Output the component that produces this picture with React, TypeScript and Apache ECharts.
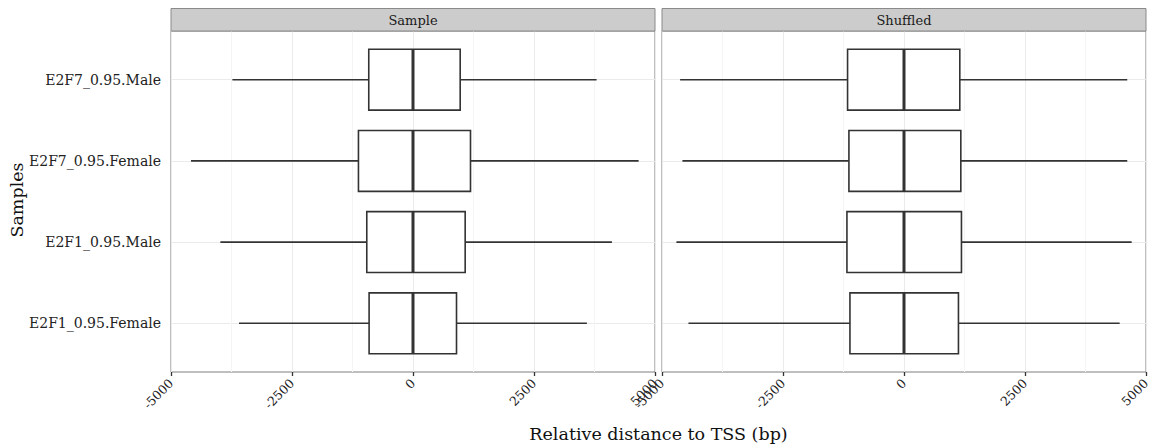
import React, { useEffect, useRef } from "react";
import * as echarts from "echarts";

// Categories, bottom to top (y = 1..4)
const categories = ["E2F1_0.95.Female", "E2F1_0.95.Male", "E2F7_0.95.Female", "E2F7_0.95.Male"];
const panels = ["Sample", "Shuffled"];
const xTicks = [-5000, -2500, 0, 2500, 5000];

// Sample panel box statistics (same order as categories)
const sampleLow = [-3595, -3980, -4587, -3732];
const sampleQ1 = [-907, -955, -1127, -914];
const sampleMedian = [0, 0, 0, 0];
const sampleQ3 = [899, 1078, 1188, 975];
const sampleHigh = [3593, 4110, 4662, 3793];

// Shuffled panel box statistics
const shuffledLow = [-4454, -4702, -4578, -4626];
const shuffledQ1 = [-1117, -1179, -1138, -1166];
const shuffledMedian = [0, 0, 0, 0];
const shuffledQ3 = [1125, 1187, 1174, 1153];
const shuffledHigh = [4456, 4704, 4613, 4613];

const FONT = "DejaVu Serif";
const INK = "#333333";

function buildRows(lo: number[], q1: number[], med: number[], q3: number[], hi: number[]) {
  return categories.map((_, i) => [i + 1, lo[i], q1[i], med[i], q3[i], hi[i]]);
}

const renderBox = (params: any, api: any) => {
  const y = api.value(0);
  const lo = api.coord([api.value(1), y]);
  const q1 = api.coord([api.value(2), y]);
  const med = api.coord([api.value(3), y]);
  const q3 = api.coord([api.value(4), y]);
  const hi = api.coord([api.value(5), y]);
  const top = api.coord([api.value(2), y + 0.375])[1];
  const bot = api.coord([api.value(2), y - 0.375])[1];
  const st = { stroke: INK, lineWidth: 1.6, fill: null };
  return {
    type: "group",
    children: [
      { type: "line", shape: { x1: lo[0], y1: lo[1], x2: q1[0], y2: q1[1] }, style: st },
      { type: "line", shape: { x1: q3[0], y1: q3[1], x2: hi[0], y2: hi[1] }, style: st },
      {
        type: "rect",
        shape: { x: q1[0], y: top, width: q3[0] - q1[0], height: bot - top },
        style: { fill: "#ffffff", stroke: INK, lineWidth: 1.6 },
      },
      { type: "line", shape: { x1: med[0], y1: top, x2: med[0], y2: bot }, style: { stroke: INK, lineWidth: 3 } },
    ],
  };
};

const GRID_TOP = 31;
const GRID_H = 341;
const GRIDS = [
  { left: 171, width: 484 },
  { left: 662, width: 484 },
];

export default function App() {
  const ref = useRef<HTMLDivElement>(null);
  useEffect(() => {
    if (!ref.current) return;
    const chart = echarts.init(ref.current, undefined, { renderer: "svg" });
    const xAxis = GRIDS.map((_, i) => ({
      type: "value",
      gridIndex: i,
      min: xTicks[0],
      max: xTicks[xTicks.length - 1],
      interval: 2500,
      axisLine: { show: false },
      axisTick: { show: true, length: 4, lineStyle: { color: INK, width: 1.3 } },
      minorTick: { show: false, splitNumber: 2 },
      axisLabel: {
        rotate: 45,
        margin: 9,
        fontFamily: FONT,
        fontSize: 12.5,
        color: "#222222",
        showMinLabel: true,
        showMaxLabel: true,
        formatter: (v: number) => String(v),
      },
      splitLine: { show: true, lineStyle: { color: "#ebebeb", width: 1 } },
      minorSplitLine: { show: true, lineStyle: { color: "#f5f5f5", width: 1 } },
    }));
    const yAxis = GRIDS.map((_, i) => ({
      type: "value",
      gridIndex: i,
      min: 0.4,
      max: 4.6,
      axisLine: { show: false },
      axisTick: {
        show: i === 0,
        length: 4,
        customValues: [1, 2, 3, 4],
        lineStyle: { color: INK, width: 1.3 },
      },
      axisLabel: {
        show: i === 0,
        customValues: [1, 2, 3, 4],
        margin: 10,
        fontFamily: FONT,
        fontSize: 14,
        color: "#222222",
        formatter: (v: number) => categories[Math.round(v) - 1] ?? "",
      },
      splitLine: { show: true, lineStyle: { color: "#ebebeb", width: 1 } },
    }));
    const strips: any[] = [];
    GRIDS.forEach((g, i) => {
      strips.push({
        type: "rect",
        shape: { x: g.left, y: 8.5, width: g.width, height: GRID_TOP - 8.5 },
        style: { fill: "#cccccc", stroke: "#8a8a8a", lineWidth: 1 },
        z: 10,
      });
      strips.push({
        type: "text",
        x: g.left + g.width / 2,
        y: (8.5 + GRID_TOP) / 2 + 0.5,
        style: {
          text: panels[i],
          font: `13px '${FONT}'`,
          fill: "#1a1a1a",
          align: "center",
          verticalAlign: "middle",
        },
        z: 11,
      });
    });
    chart.setOption({
      animation: false,
      backgroundColor: "#ffffff",
      grid: GRIDS.map((g) => ({
        left: g.left,
        top: GRID_TOP,
        width: g.width,
        height: GRID_H,
        show: true,
        backgroundColor: "#ffffff",
        borderColor: "#7f7f7f",
        borderWidth: 1,
      })),
      xAxis,
      yAxis,
      series: [
        {
          type: "custom",
          xAxisIndex: 0,
          yAxisIndex: 0,
          renderItem: renderBox,
          encode: { x: [1, 2, 3, 4, 5], y: 0 },
          data: buildRows(sampleLow, sampleQ1, sampleMedian, sampleQ3, sampleHigh),
          z: 5,
        },
        {
          type: "custom",
          xAxisIndex: 1,
          yAxisIndex: 1,
          renderItem: renderBox,
          encode: { x: [1, 2, 3, 4, 5], y: 0 },
          data: buildRows(shuffledLow, shuffledQ1, shuffledMedian, shuffledQ3, shuffledHigh),
          z: 5,
        },
      ],
      graphic: [
        ...strips,
        {
          type: "text",
          x: (GRIDS[0].left + GRIDS[1].left + GRIDS[1].width) / 2,
          y: 434,
          style: {
            text: "Relative distance to TSS (bp)",
            font: `17.5px '${FONT}'`,
            fill: "#111111",
            align: "center",
            verticalAlign: "middle",
          },
        },
        {
          type: "text",
          x: 17,
          y: 200,
          rotation: Math.PI / 2,
          style: {
            text: "Samples",
            font: `17.5px '${FONT}'`,
            fill: "#111111",
            align: "center",
            verticalAlign: "middle",
          },
        },
      ],
    });
    return () => chart.dispose();
  }, []);
  return (
    <div
      ref={ref}
      style={{ position: "absolute", left: 0, top: 0, width: 1161, height: 448 }}
    />
  );
}
